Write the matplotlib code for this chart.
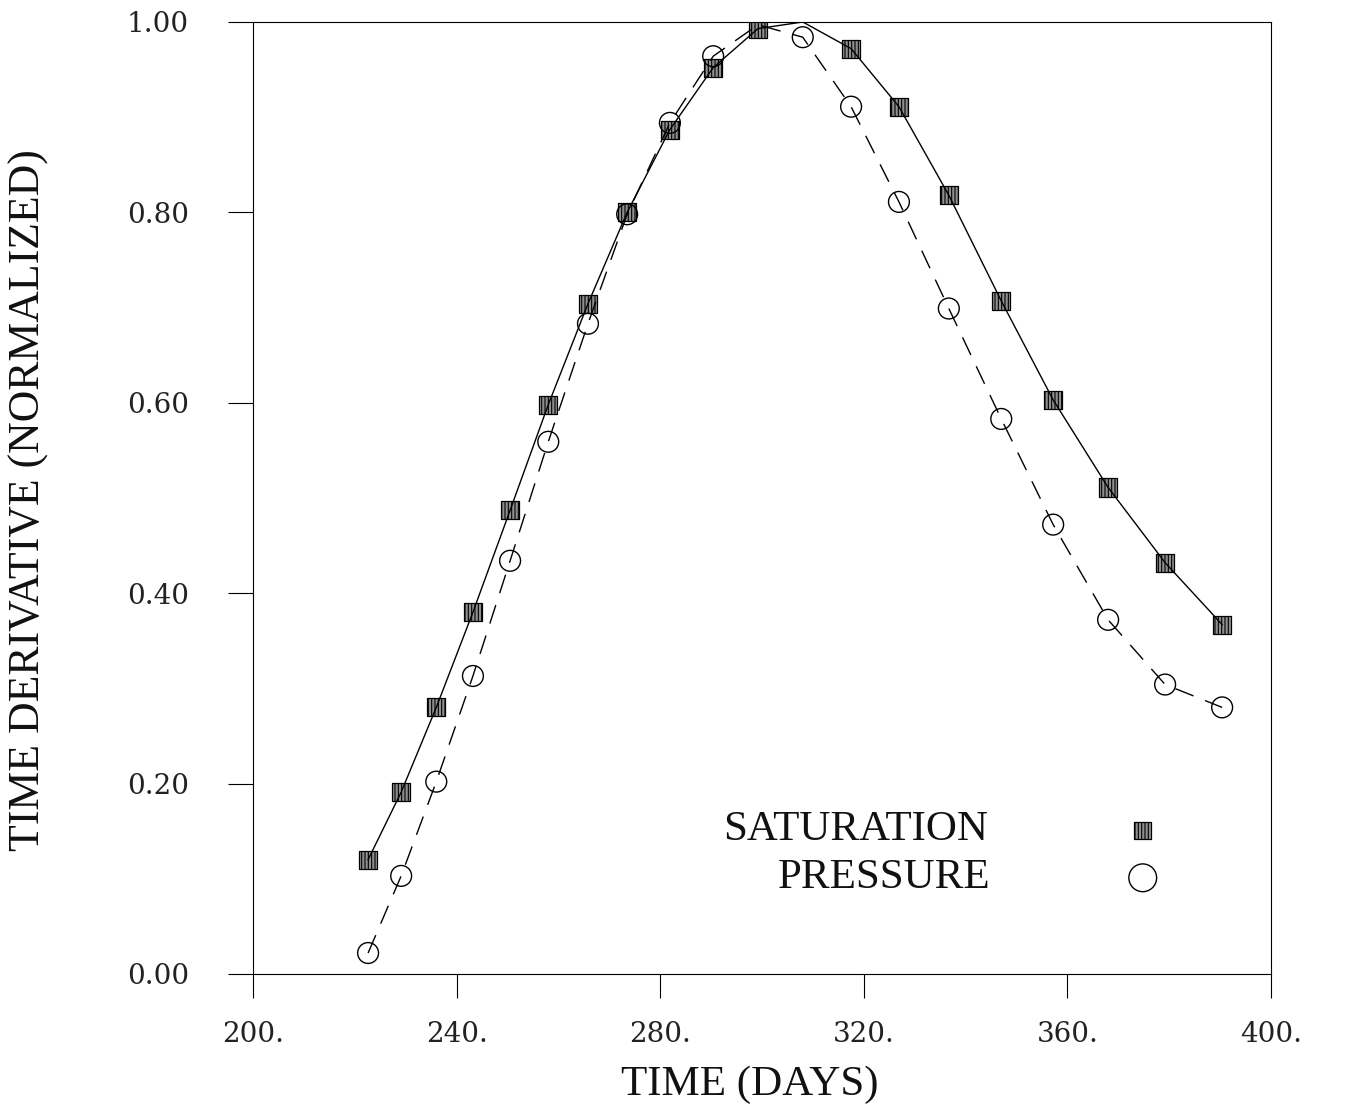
import matplotlib
matplotlib.use("Agg")
import matplotlib.pyplot as plt
from matplotlib.ticker import FixedLocator, FuncFormatter

# ---- data ----
days = [222.6, 229.1, 236.0, 243.2, 250.5, 258.0, 265.8, 273.5, 281.9, 290.4,
        299.2, 308.0, 317.5, 326.9, 336.7, 347.0, 357.2, 368.0, 379.2, 390.4]
saturation = [0.120, 0.191, 0.280, 0.380, 0.487, 0.598, 0.704, 0.800, 0.887, 0.952,
              0.993, 1.000, 0.972, 0.911, 0.818, 0.707, 0.603, 0.511, 0.432, 0.367]
pressure = [0.022, 0.103, 0.202, 0.313, 0.434, 0.559, 0.683, 0.798, 0.894, 0.964,
            0.997, 0.984, 0.911, 0.811, 0.699, 0.583, 0.472, 0.372, 0.304, 0.280]
sat_mark = [i for i in range(len(days)) if i != 11]
pre_mark = [i for i in range(len(days)) if i != 10]
xticks = [200, 240, 280, 320, 360, 400]
yticks = [0.0, 0.2, 0.4, 0.6, 0.8, 1.0]

FONT = "Liberation Serif"
TICKFONT = "DejaVu Serif"
plt.rcParams['hatch.linewidth'] = 0.8

fig = plt.figure(figsize=(13.54, 11.15), dpi=100)
ax = fig.add_axes([0.1869, 0.1265, 0.9387 - 0.1869, 0.9803 - 0.1265])

ax.plot(days, saturation, color='black', lw=1.0, zorder=3)
ax.plot(days, pressure, color='black', lw=1.0, ls=(0, (14, 9)), zorder=3)

ax.scatter([days[i] for i in sat_mark], [saturation[i] for i in sat_mark],
           marker='s', s=13**2, facecolor='#8f8f8f', edgecolor='black',
           linewidth=0.9, hatch='|||||', zorder=2)
ax.scatter([days[i] for i in pre_mark], [pressure[i] for i in pre_mark],
           marker='o', s=15**2, facecolor='none', edgecolor='black',
           linewidth=1.0, zorder=2)

ax.set_xlim(200, 400)
ax.set_ylim(0, 1.0)
ax.xaxis.set_major_locator(FixedLocator(xticks))
ax.yaxis.set_major_locator(FixedLocator(yticks))
ax.xaxis.set_major_formatter(FuncFormatter(lambda v, p: f"{v:.0f}."))
ax.yaxis.set_major_formatter(FuncFormatter(lambda v, p: f"{v:.2f}"))
ax.tick_params(axis='x', direction='out', length=17, width=0.8, pad=17,
               labelsize=20, colors='black', labelcolor='#222222')
ax.tick_params(axis='y', direction='out', length=18, width=0.8, pad=28,
               labelsize=20, colors='black', labelcolor='#222222')
for lab in ax.get_xticklabels() + ax.get_yticklabels():
    lab.set_family(TICKFONT)
for sp in ax.spines.values():
    sp.set_linewidth(0.8)

fig.text(750 / 1354, 1 - 1085 / 1115, "TIME (DAYS)", family=FONT, fontsize=31,
         ha='center', va='center', color='#111111')
fig.text(29 / 1354, 1 - 500 / 1115, "TIME DERIVATIVE (NORMALIZED)", family=FONT,
         fontsize=31.5, ha='center', va='center', rotation=90, color='#111111')

# legend
ax.text(0.722, 0.151, "SATURATION", transform=ax.transAxes, ha='right', va='center',
        family=FONT, fontsize=31, color='#111111')
ax.text(0.724, 0.101, "PRESSURE", transform=ax.transAxes, ha='right', va='center',
        family=FONT, fontsize=31, color='#111111')
ax.scatter([0.874], [0.151], transform=ax.transAxes, marker='s', s=12**2,
           facecolor='#8f8f8f', edgecolor='black', linewidth=0.9, hatch='|||||',
           clip_on=False)
ax.scatter([0.874], [0.101], transform=ax.transAxes, marker='o', s=20**2,
           facecolor='none', edgecolor='black', linewidth=1.0, clip_on=False)

fig.savefig("out.png", dpi=100)
